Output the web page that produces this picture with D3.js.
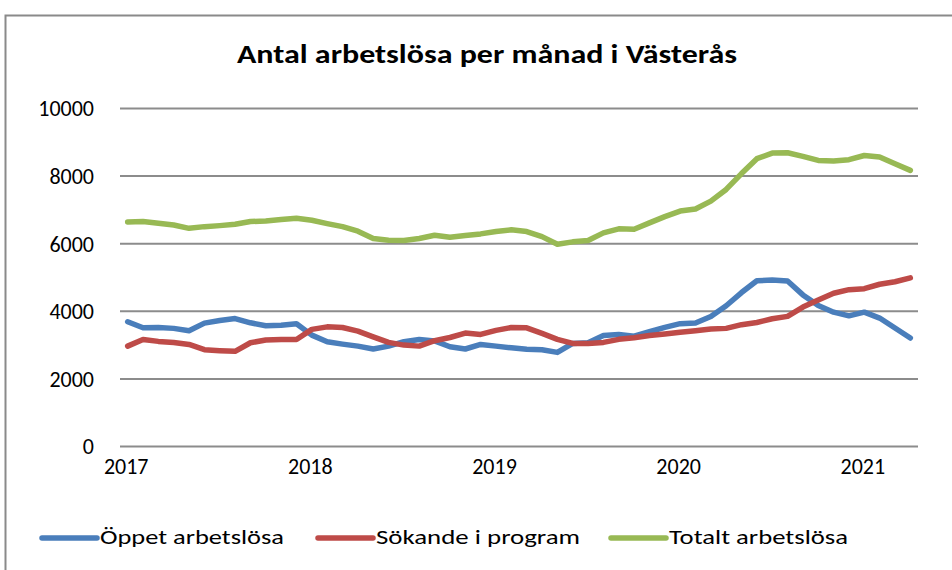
<!DOCTYPE html>
<html>
<head>
<meta charset="utf-8">
<script src="https://cdn.jsdelivr.net/npm/d3@7"></script>
<style>
  html, body { margin: 0; padding: 0; background: #fff; }
  svg { display: block; }
  text { font-family: Carlito, Calibri, Lato, "Open Sans", sans-serif; fill: #000; }
</style>
</head>
<body>
<svg id="chart" width="952" height="570"></svg>
<script>
const title = "Antal arbetslösa per månad i Västerås";
const yTicks = [0, 2000, 4000, 6000, 8000, 10000];
const yearLabels = ["2017", "2018", "2019", "2020", "2021"];
const seriesNames = ["Öppet arbetslösa", "Sökande i program", "Totalt arbetslösa"];
const seriesColors = ["#4A7EBB", "#BE4B48", "#98B954"];

// Monthly, Jan 2017 – Apr 2021
const months = d3.range(52).map(i => `${2017 + Math.floor(i / 12)}-${String(i % 12 + 1).padStart(2, "0")}`);

const oppet = [3675, 3500, 3505, 3480, 3410, 3635, 3715, 3770, 3645, 3560, 3575, 3615,
               3280, 3085, 3015, 2955, 2870, 2955, 3085, 3150, 3110, 2935, 2870, 3005,
               2955, 2905, 2860, 2850, 2770, 3035, 3055, 3270, 3300, 3250, 3380, 3510,
               3620, 3640, 3830, 4150, 4540, 4890, 4910, 4880, 4470, 4160, 3960, 3850,
               3960, 3785, 3490, 3195];
const sokande = [2955, 3150, 3095, 3065, 3005, 2850, 2820, 2800, 3055, 3135, 3150, 3150,
                 3450, 3525, 3505, 3400, 3230, 3065, 2985, 2955, 3115, 3210, 3340, 3300,
                 3420, 3505, 3495, 3330, 3155, 3035, 3035, 3065, 3155, 3200, 3270, 3315,
                 3365, 3410, 3460, 3480, 3590, 3655, 3765, 3835, 4110, 4320, 4520, 4625,
                 4655, 4785, 4860, 4975];
const totalt = [6630, 6640, 6590, 6540, 6440, 6490, 6520, 6560, 6640, 6660, 6700, 6740,
                6680, 6580, 6490, 6355, 6140, 6090, 6080, 6140, 6235, 6175, 6225, 6275,
                6345, 6395, 6345, 6195, 5970, 6040, 6080, 6305, 6425, 6415, 6600, 6785,
                6950, 7010, 7245, 7590, 8060, 8500, 8665, 8675, 8570, 8450, 8430, 8470,
                8595, 8550, 8350, 8155];

const seriesValues = [oppet, sokande, totalt];

const svg = d3.select("#chart");

// outer chart frame
svg.append("rect")
  .attr("x", 5.5).attr("y", 15.5)
  .attr("width", 1100).attr("height", 1100)
  .attr("fill", "#fff")
  .attr("stroke", "#8a8a8a")
  .attr("stroke-width", 2);

const plot = { left: 120, right: 918, top: 108, bottom: 446 };

const x = d3.scalePoint().domain(months).range([plot.left, plot.right]).padding(0.5);
const y = d3.scaleLinear().domain([0, 10000]).range([plot.bottom, plot.top]);

// title
svg.append("text")
  .attr("x", 487).attr("y", 63)
  .attr("text-anchor", "middle")
  .attr("font-weight", "bold")
  .attr("font-size", 25.5)
  .attr("textLength", 500)
  .attr("lengthAdjust", "spacingAndGlyphs")
  .text(title);

// gridlines + y axis labels
const yAxis = d3.axisLeft(y).tickValues(yTicks).tickFormat(d3.format("d"))
  .tickSize(-(plot.right - plot.left)).tickPadding(26);
const gy = svg.append("g").attr("transform", `translate(${plot.left},0)`).call(yAxis);
gy.select(".domain").remove();
gy.selectAll(".tick line").attr("stroke", "#8c8c8c").attr("stroke-width", 2);
gy.selectAll(".tick text")
  .attr("font-size", 22)
  .attr("font-family", "Carlito, Calibri, Lato, sans-serif")
  .attr("fill", "#000")
  .attr("dy", "0.36em");

// x axis labels (January of each year)
const janMonths = months.filter(m => m.endsWith("-01"));
const xAxis = d3.axisBottom(x).tickValues(janMonths)
  .tickFormat((d, i) => yearLabels[i]).tickSize(0).tickPadding(12);
const gx = svg.append("g").attr("transform", `translate(-2,${plot.bottom})`).call(xAxis);
gx.select(".domain").remove();
gx.selectAll(".tick text")
  .attr("font-size", 22)
  .attr("font-family", "Carlito, Calibri, Lato, sans-serif")
  .attr("fill", "#000");

// lines
const line = d3.line()
  .x((d, i) => x(months[i]))
  .y(d => y(d));

seriesValues.forEach((vals, k) => {
  svg.append("path")
    .datum(vals)
    .attr("fill", "none")
    .attr("stroke", seriesColors[k])
    .attr("stroke-width", 5.5)
    .attr("stroke-linejoin", "round")
    .attr("stroke-linecap", "round")
    .attr("d", line);
});

// legend
const legendX = [42, 318, 611];
const legendTextW = [184, 204, 179];
const legendY = 538;
seriesNames.forEach((name, k) => {
  const g = svg.append("g").attr("transform", `translate(${legendX[k]},${legendY})`);
  g.append("line")
    .attr("x1", 0).attr("x2", 55).attr("y1", 0).attr("y2", 0)
    .attr("stroke", seriesColors[k]).attr("stroke-width", 5.5)
    .attr("stroke-linecap", "round");
  g.append("text")
    .attr("x", 58).attr("y", 6)
    .attr("font-size", 21)
    .attr("textLength", legendTextW[k])
    .attr("lengthAdjust", "spacingAndGlyphs")
    .text(name);
});
</script>
</body>
</html>
